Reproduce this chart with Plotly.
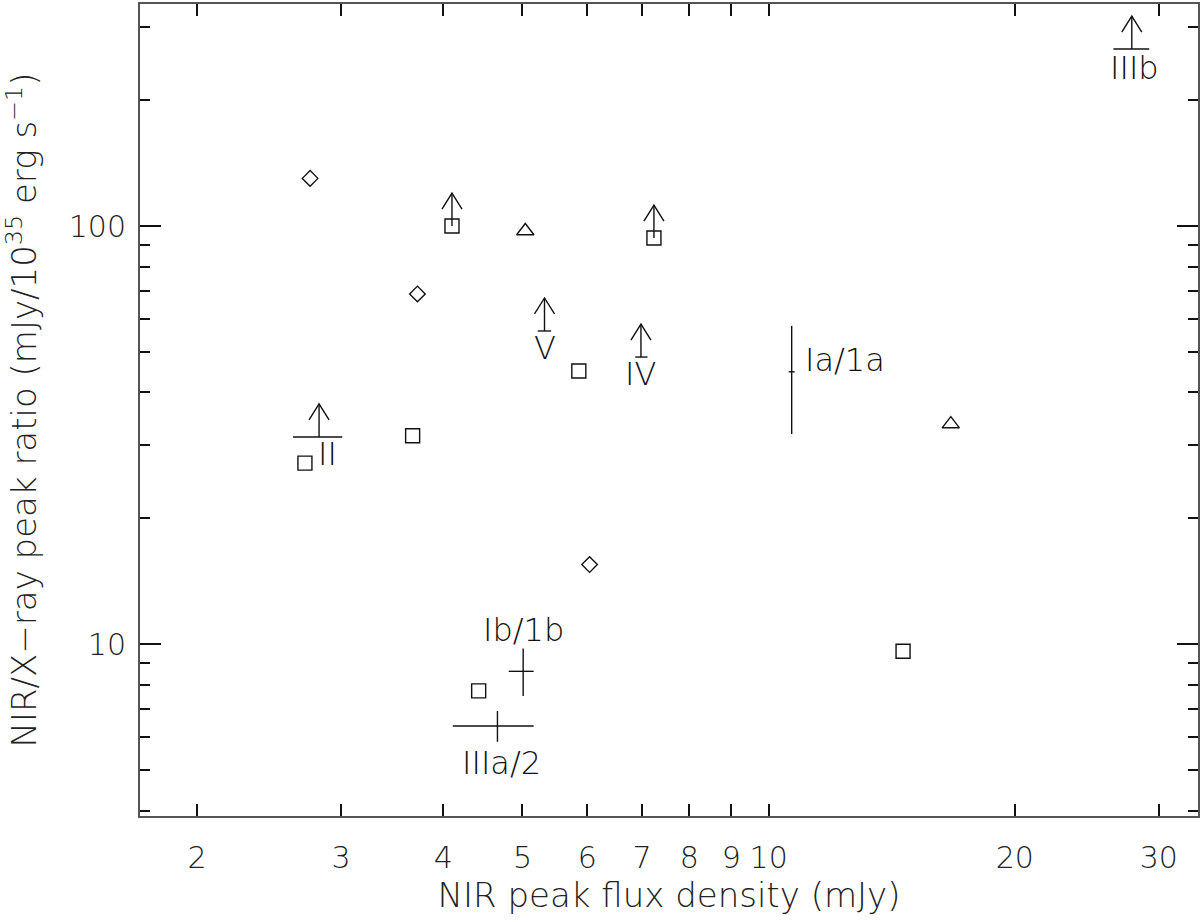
import math
import plotly.graph_objects as go

# ---------------- data ----------------
square_x = [4.10, 7.24, 5.86, 3.67, 2.71, 4.42, 14.6]
square_y = [100.0, 93.6, 45.0, 31.5, 27.1, 7.73, 9.62]

diamond_x = [2.75, 3.72, 6.04]
diamond_y = [130.0, 68.8, 15.5]

triangle_x = [5.04, 16.7]
triangle_y = [97.3, 33.6]

# lower limits drawn from a square (no bar)
sqlim_x = [4.10, 7.24]
sqlim_y = [100.0, 93.6]

# labelled lower limits with a horizontal bar
lim_labels = ["V", "IV", "II", "IIIb"]
lim_x = [5.32, 6.98, 2.82, 27.8]
lim_y = [56.1, 48.6, 31.3, 265.0]
lim_xlo = [5.22, 6.87, 2.62, 26.4]
lim_xhi = [5.42, 7.11, 3.01, 29.2]

# labelled points with error ranges
err_labels = ["Ib/1b", "IIIa/2", "Ia/1a"]
err_x = [5.01, 4.66, 10.67]
err_y = [8.61, 6.37, 44.8]
err_xlo = [4.81, 4.11, 10.58]
err_xhi = [5.16, 5.16, 10.76]
err_ylo = [7.52, 5.84, 31.8]
err_yhi = [9.77, 6.92, 57.7]

x_ticks = [2, 3, 4, 5, 6, 7, 8, 9, 10, 20, 30]
x_ticktext = ["2", "3", "4", "5", "6", "7", "8", "9", "10", "20", "30"]
y_major = [10, 100]
y_minor = [4, 5, 6, 7, 8, 9, 20, 30, 40, 50, 60, 70, 80, 90, 200, 300]

# label offsets (pixels) relative to their points
lim_label_shift = [(0, -17), (0, -17), (8, -17), (3, -19)]
err_label_shift = [(0, 41), (4, -37), (53, 12)]

# ---------------- style ----------------
FONT = "DejaVu Sans"
INK = "#111111"
AXIS = "#555555"
LW = 1.4
ARROW_LEN = 10 ** (33 / 418)     # 33 px in y
HEAD_DY = 10 ** (16 / 418)
HEAD_DX = 10 ** (10 / 818)

fig = go.Figure()

marker_line = dict(color=INK, width=LW)
fig.add_trace(go.Scatter(x=square_x, y=square_y, mode="markers",
                         marker=dict(symbol="square-open", size=14, color=INK, line=marker_line)))
fig.add_trace(go.Scatter(x=diamond_x, y=diamond_y, mode="markers",
                         marker=dict(symbol="diamond-open", size=12, color=INK, line=marker_line)))
fig.add_trace(go.Scatter(x=triangle_x, y=triangle_y, mode="markers",
                         marker=dict(symbol="triangle-up-open", size=15, color=INK, line=marker_line)))

# arrows (lower limits)
ax, ay = [], []
for x0, y0 in list(zip(sqlim_x, sqlim_y)) + list(zip(lim_x, lim_y)):
    tip = y0 * ARROW_LEN
    ax += [x0, x0, None, x0 / HEAD_DX, x0, x0 * HEAD_DX, None]
    ay += [y0, tip, None, tip / HEAD_DY, tip, tip / HEAD_DY, None]
fig.add_trace(go.Scatter(x=ax, y=ay, mode="lines", line=dict(color=INK, width=LW)))

# limit bars
bx, by = [], []
for lo, hi, y0 in zip(lim_xlo, lim_xhi, lim_y):
    bx += [lo, hi, None]
    by += [y0, y0, None]
fig.add_trace(go.Scatter(x=bx, y=by, mode="lines", line=dict(color=INK, width=LW)))

# error crosses
fig.add_trace(go.Scatter(
    x=err_x, y=err_y, mode="markers", marker=dict(size=1, color=INK),
    error_x=dict(type="data", symmetric=False,
                 array=[h - c for h, c in zip(err_xhi, err_x)],
                 arrayminus=[c - l for c, l in zip(err_x, err_xlo)],
                 color=INK, thickness=LW, width=0),
    error_y=dict(type="data", symmetric=False,
                 array=[h - c for h, c in zip(err_yhi, err_y)],
                 arrayminus=[c - l for c, l in zip(err_y, err_ylo)],
                 color=INK, thickness=LW, width=0),
))

label_font = dict(family=FONT, size=32, color=INK, weight=200)
for t, x0, y0, (dx, dy) in list(zip(lim_labels, lim_x, lim_y, lim_label_shift)) + \
        list(zip(err_labels, err_x, err_y, err_label_shift)):
    fig.add_annotation(x=math.log10(x0), y=math.log10(y0), text=t, showarrow=False,
                       xshift=dx, yshift=dy, xanchor="center", yanchor="middle",
                       font=label_font)

tick_font = dict(family=FONT, size=30, color="#222222", weight=200)
title_font = dict(family=FONT, size=34, color="#222222", weight=200)
fig.update_xaxes(type="log", range=[0.2313, 1.525], automargin=False,
                 tickvals=x_ticks, ticktext=x_ticktext,
                 ticks="inside", ticklen=12, tickwidth=1.5, tickcolor=INK,
                 ticklabelstandoff=14,
                 showline=True, linecolor=AXIS, linewidth=2, mirror="ticks",
                 showgrid=False, zeroline=False, tickfont=tick_font,
                 title=dict(text="NIR peak flux density (mJy)", font=title_font, standoff=6))
fig.update_yaxes(type="log", range=[0.589, 2.531], automargin=False,
                 tickvals=y_major, ticktext=["10", "100"],
                 ticks="inside", ticklen=21, tickwidth=1.5, tickcolor=INK,
                 ticklabelstandoff=6,
                 minor=dict(tickvals=y_minor, ticks="inside", ticklen=10, tickwidth=1.5,
                            tickcolor=INK, showgrid=False),
                 showline=True, linecolor=AXIS, linewidth=2, mirror="ticks",
                 showgrid=False, zeroline=False, tickfont=tick_font,
                 title=dict(text="NIR/X\u2212ray peak ratio (mJy/10<sup>35</sup> erg s<sup>\u22121</sup>)",
                            font=title_font, standoff=22))

fig.update_layout(width=1200, height=922, showlegend=False,
                  paper_bgcolor="white", plot_bgcolor="white",
                  margin=dict(l=140, r=2, t=4, b=106))

fig.write_html("out.html", config={"displayModeBar": False},
               post_script="document.body.style.margin='0';document.body.style.overflow='hidden';")
